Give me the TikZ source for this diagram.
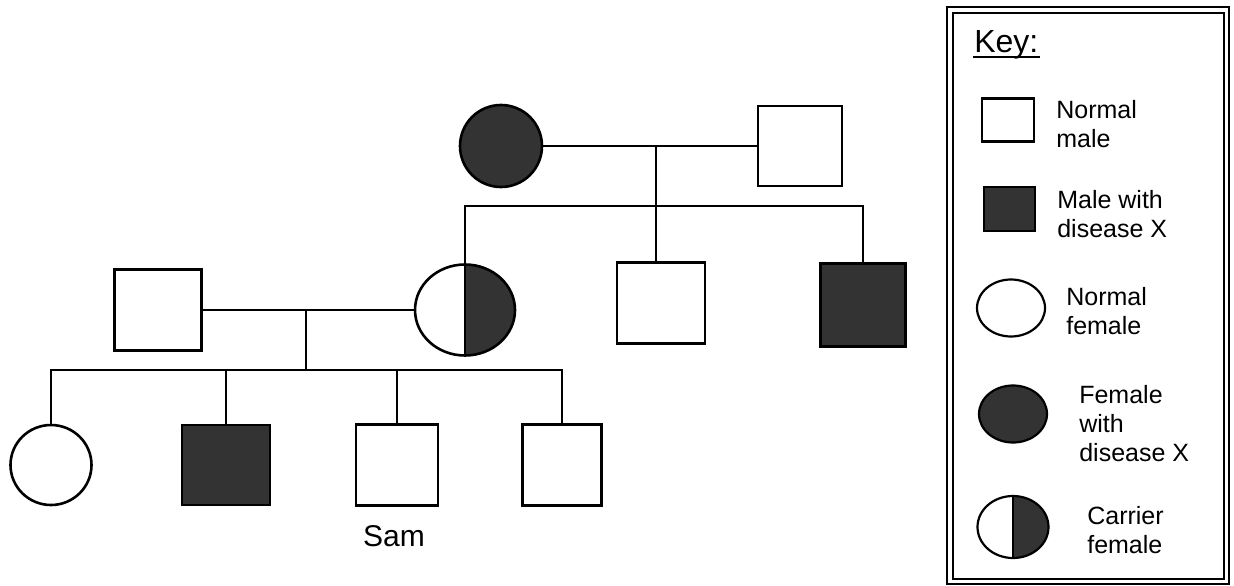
\documentclass[tikz,border=0pt]{standalone}
\usepackage{fontspec}
\setmainfont{Liberation Sans}
\usetikzlibrary{shapes.geometric}
\definecolor{diseased}{gray}{0.2}

\begin{document}
\begin{tikzpicture}[x=1pt,y=-1pt,line width=2.6pt,
        person/.style={draw,inner sep=0pt},
        male/.style={person,rectangle},
        female/.style={person,ellipse},
        affected/.style={fill=diseased},
        carrier/.style={female,path picture={
                \fill[diseased] (path picture bounding box.north) rectangle (path picture bounding box.south east);
                \draw (path picture bounding box.north) -- (path picture bounding box.south);}},
        keytext/.style={anchor=base west,align=left,inner sep=0pt,font=\fontsize{25}{29}\selectfont}]
        \useasboundingbox (0,0) rectangle (1234,586);

        \node[female,affected,minimum width=82pt,minimum height=82pt] (gma) at (501,146) {};
        \node[male,minimum width=84pt,minimum height=80pt] (gpa) at (800,146) {};
        \coordinate (gmate) at (656,146);
        \coordinate (gsib) at (656,206);

        \node[carrier,minimum width=100pt,minimum height=91pt] (mum) at (465,310) {};
        \node[male,minimum width=88pt,minimum height=81pt] (uncle1) at (661,303) {};
        \node[male,affected,minimum width=85pt,minimum height=83pt] (uncle2) at (863,305) {};
        \node[male,minimum width=87pt,minimum height=81pt] (dad) at (158,310) {};
        \coordinate (pmate) at (306,310);
        \coordinate (psib) at (306,370);

        \node[female,minimum width=81pt,minimum height=80pt] (dau) at (51,465) {};
        \node[male,affected,minimum width=88pt,minimum height=80pt] (bro) at (226,465) {};
        \node[male,minimum width=82pt,minimum height=81pt] (sam) at (397,465) {};
        \node[male,minimum width=79pt,minimum height=81pt] (bro2) at (562,465) {};
        \node[anchor=base,inner sep=0pt,font=\fontsize{30}{36}\selectfont] (samname) at (394,546) {Sam};

        \draw (gma) -- (gpa);
        \draw (gmate) -- (gmate |- uncle1.north);
        \draw (mum.north) |- (gsib) -| (uncle2.north);
        \draw (dad) -- (mum);
        \draw (pmate) -- (psib);
        \draw (dau.north) |- (psib) -| (bro2.north);
        \draw (bro.north) -- (bro.north |- psib);
        \draw (sam.north) -- (sam.north |- psib);

        \draw[line width=1.8pt] (947,7) rectangle (1229,584);
        \draw[line width=1.8pt] (953,13) rectangle (1224,579);
        \node[keytext,font=\fontsize{32}{36}\selectfont] (keytitle) at (973,53) {Key:};
        \draw[line width=1.6pt] ([yshift=-4pt]keytitle.base west) -- ([yshift=-4pt]keytitle.base east);
        \node[male,line width=2.2pt,minimum width=52pt,minimum height=43pt] (kmale) at (1008,120) {};
        \node[keytext] (tmale) at (1055,147) {Normal\\male};
        \node[male,affected,line width=2.2pt,minimum width=51pt,minimum height=44pt] (kaff) at (1009.5,209) {};
        \node[keytext] (taff) at (1056,237) {Male with\\disease X};
        \node[female,line width=2.2pt,minimum width=68pt,minimum height=57pt] (kfem) at (1011,308) {};
        \node[keytext] (tfem) at (1065,334) {Normal\\female};
        \node[female,affected,line width=2.2pt,minimum width=68pt,minimum height=57pt] (kaffem) at (1013,414) {};
        \node[keytext] (taffem) at (1078,461) {Female\\with\\disease X};
        \node[carrier,line width=2.2pt,minimum width=71pt,minimum height=62pt] (kcar) at (1013,527) {};
        \node[keytext] (tcar) at (1086,553) {Carrier\\female};
\end{tikzpicture}
\end{document}
